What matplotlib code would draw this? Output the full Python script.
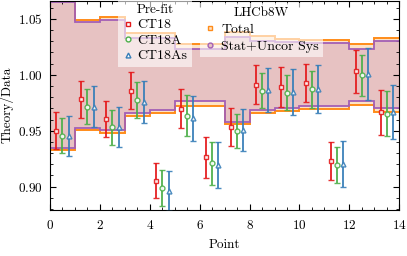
import numpy as np
import matplotlib
matplotlib.use("Agg")
import matplotlib.pyplot as plt
from matplotlib.lines import Line2D
from matplotlib.ticker import MultipleLocator

plt.rcParams['font.family'] = 'serif'
plt.rcParams['font.serif'] = ['cmr10']
plt.rcParams['mathtext.fontset'] = 'cm'
plt.rcParams['axes.formatter.use_mathtext'] = True
plt.rcParams['font.size'] = 9.5

edges = np.arange(15)

# bands (upper / lower edges per bin)
total_up = [1.075, 1.0493, 1.0517, 1.0375, 1.0375, 1.028, 1.028, 1.0385, 1.035, 1.032, 1.031, 1.031, 1.0278, 1.033]
total_lo = [0.9328, 0.9507, 0.9483, 0.963, 0.9662, 0.9725, 0.9725, 0.956, 0.9657, 0.9677, 0.9693, 0.9693, 0.9731, 0.9671]
stat_up = [1.065, 1.0475, 1.0493, 1.0325, 1.0325, 1.0235, 1.0235, 1.034, 1.030, 1.029, 1.0284, 1.0284, 1.0235, 1.030]
stat_lo = [0.9349, 0.9528, 0.9507, 0.9657, 0.9686, 0.977, 0.977, 0.958, 0.9686, 0.970, 0.9725, 0.9725, 0.9767, 0.9707]

# pre-fit theory/data
ct18 = [0.950, 0.9782, 0.9606, 0.9857, 0.9053, 0.9698, 0.9262, 0.9537, 0.9913, 0.9892, 0.9925, 0.9229, 1.003, 0.9666]
ct18_err = [0.0165, 0.0166, 0.0163, 0.0164, 0.0158, 0.0175, 0.0185, 0.017, 0.0172, 0.0177, 0.0172, 0.0169, 0.0194, 0.020]
ct18a = [0.9456, 0.9716, 0.9531, 0.9776, 0.8985, 0.9633, 0.9209, 0.9498, 0.9859, 0.9841, 0.9872, 0.9194, 0.9997, 0.9653]
ct18a_err = [0.0157, 0.016, 0.0158, 0.0162, 0.016, 0.0183, 0.0192, 0.015, 0.0157, 0.016, 0.0165, 0.016, 0.0184, 0.0199]
ct18as = [0.9456, 0.9716, 0.953, 0.976, 0.8963, 0.9612, 0.9194, 0.9507, 0.9866, 0.9848, 0.9875, 0.920, 1.0009, 0.9666]
ct18as_err = [0.0178, 0.018, 0.018, 0.0187, 0.018, 0.020, 0.0204, 0.0187, 0.0197, 0.0207, 0.0215, 0.0204, 0.0235, 0.0243]

c_orange = '#ff8c1a'
c_purple = '#a35fb5'
c_red = '#e41a1c'
c_green = '#4daf4a'
c_blue = '#377eb8'

fig = plt.figure(figsize=(4.07, 2.56), dpi=100)
ax = fig.add_axes([0.1229, 0.1816, 0.8581, 0.8144])

ax.stairs(total_up, edges, baseline=total_lo, fill=True, color='#fde3c6', zorder=1)
ax.stairs(stat_up, edges, baseline=stat_lo, fill=True, color='#e7c2c2', zorder=1.1)
for v in (total_up, total_lo):
    ax.stairs(v, edges, baseline=None, color=c_orange, lw=1.4, zorder=2)
for v in (stat_up, stat_lo):
    ax.stairs(v, edges, baseline=None, color=c_purple, lw=1.3, zorder=2.1)

x = np.arange(14)
series = [(ct18, ct18_err, c_red, 's', 0.25, 'CT18'),
          (ct18a, ct18a_err, c_green, 'o', 0.5, 'CT18A'),
          (ct18as, ct18as_err, c_blue, '^', 0.75, 'CT18As')]
handles1 = []
for y, e, c, m, off, lab in series:
    ax.errorbar(x + off, y, yerr=e, fmt=m, color=c, mfc='white', mec=c, ms=3.5, mew=1.0,
                elinewidth=1.4, capsize=2.5, capthick=1.0, alpha=0.9, zorder=3)
    handles1.append(Line2D([], [], ls='none', marker=m, color=c, mfc='white', mec=c, ms=3.5, mew=1.0, label=lab))

ax.set_xlim(0, 14)
ax.set_ylim(0.8795, 1.066)
ax.xaxis.set_major_locator(MultipleLocator(2))
ax.xaxis.set_minor_locator(MultipleLocator(0.5))
ax.yaxis.set_major_locator(MultipleLocator(0.05))
ax.yaxis.set_minor_locator(MultipleLocator(0.01))
ax.tick_params(which='both', direction='in', top=True, right=True)
ax.tick_params(which='major', length=4, pad=5)
ax.tick_params(axis='x', which='major', pad=7)
ax.tick_params(which='minor', length=2)
ax.set_xlabel('Point', labelpad=5)
ax.set_ylabel('Theory/Data', labelpad=3)

leg1 = ax.legend(handles=handles1, title='Pre-fit', loc='upper left', bbox_to_anchor=(0.175, 1.04),
                 frameon=True, fancybox=False, framealpha=0.6, edgecolor='none',
                 handlelength=0.8, handletextpad=0.3, borderpad=0.3, labelspacing=0.2, fontsize=10,
                 title_fontsize=9.5)
leg1.set_zorder(5)
ax.add_artist(leg1)

handles2 = [Line2D([], [], ls='none', marker='s', color=c_orange, mfc='#fde3c6', mec=c_orange, ms=3.5, label='Total'),
            Line2D([], [], ls='none', marker='o', color=c_purple, mfc='#e7c2c2', mec=c_purple, ms=3.5, label='Stat+Uncor Sys')]
leg2 = ax.legend(handles=handles2, title='LHCb8W', loc='upper left', bbox_to_anchor=(0.41, 1.025),
                 frameon=True, fancybox=False, framealpha=0.6, edgecolor='none',
                 handlelength=0.8, handletextpad=0.4, borderpad=0.3, labelspacing=0.3, fontsize=10,
                 title_fontsize=9.5)
leg2.set_zorder(5)

fig.savefig('out.png', dpi=100)
